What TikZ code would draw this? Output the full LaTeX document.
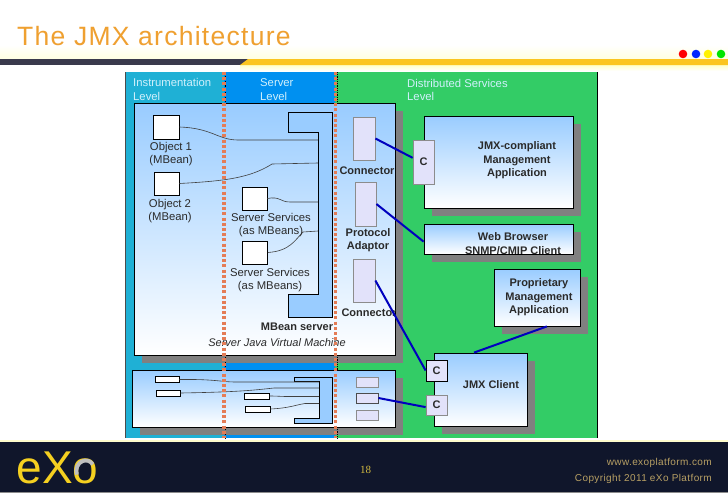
\documentclass[tikz,border=0pt]{standalone}
\usepackage{fontspec}
\usepackage{xcolor}
\usetikzlibrary{shadows}
\setmainfont{Liberation Sans}
\newfontfamily\pagefont{Liberation Serif}
\definecolor{bandteal}{HTML}{1FB0D5}
\definecolor{bandblue}{HTML}{0090F0}
\definecolor{bandgreen}{HTML}{33CC66}
\definecolor{skyfill}{HTML}{99CCFF}
\definecolor{lavender}{HTML}{E2E2FA}
\definecolor{linkblue}{HTML}{0000BE}
\definecolor{dotorange}{HTML}{E47C56}
\definecolor{footnavy}{HTML}{10162B}
\definecolor{footgold}{HTML}{B8A064}
\definecolor{pagegold}{HTML}{D0B840}
\definecolor{barslate}{HTML}{3A3A4C}
\definecolor{bargold}{HTML}{FBC520}
\definecolor{titleorange}{HTML}{EFA030}
\definecolor{logoyellow}{HTML}{F5D020}
\definecolor{inktext}{HTML}{2A2A2A}
\tikzset{
  lbl/.style={font=\fontsize{11.3}{13.6}\selectfont, text=inktext, align=center, inner sep=0pt},
  boldlbl/.style={lbl, font=\fontsize{11}{13.6}\selectfont\bfseries},
  bandlbl/.style={lbl, anchor=west, align=left, text=white!82!cyan},
  whitebox/.style={draw=black, fill=white, line width=0.7pt, inner sep=0pt},
  gradbox/.style={draw=black, line width=0.8pt, top color=skyfill, bottom color=white, inner sep=0pt,
    drop shadow={shadow xshift=7.5pt, shadow yshift=-7.5pt, fill=black!50, opacity=1}},
  portbox/.style={draw=black!45, fill=lavender, line width=0.8pt, inner sep=0pt},
  cport/.style={portbox, boldlbl, minimum width=21pt},
  wire/.style={draw=black!75, line width=0.6pt},
  link/.style={draw=linkblue, line width=2pt},
  levelline/.style={dotorange, line width=3.3pt, dash pattern=on 3pt off 2.2pt},
  levelmark/.style={black, line width=0.8pt, densely dotted},
  mbeanbar/.style={fill=skyfill, draw=black, line width=0.8pt},
  dot/.style={circle, minimum size=8.6pt, inner sep=0pt}
}
\begin{document}
\begin{tikzpicture}[x=1pt, y=-1pt]
\useasboundingbox (0,0) rectangle (728,493);
\fill[white] (0,0) rectangle (728,493);

% Header
\shade[top color=white, bottom color=yellow!12] (0,45) rectangle (728,59);
\shade[top color=yellow!22, bottom color=white] (240,65) rectangle (728,71);
\fill[barslate] (0,59) rectangle (250,65);
\fill[bargold] (240,65) -- (248,59) -- (728,59) -- (728,65) -- cycle;
\node[anchor=base west, inner sep=0pt, text=titleorange, font=\fontsize{26.5}{30}\selectfont\addfontfeature{LetterSpace=4.8}] (title) at (17,45) {The JMX architecture};
\node[dot, fill=red] (dotred) at (683,54) {};
\node[dot, fill=blue!85!cyan] (dotblue) at (696,54) {};
\node[dot, fill=yellow] (dotyellow) at (708,54) {};
\node[dot, fill=green!90!black] (dotgreen) at (721,54) {};

% Level bands
\fill[bandteal] (125,72) rectangle (224,438);
\fill[bandblue] (224,72) rectangle (335,438);
\fill[bandgreen] (335,72) rectangle (597,438);
\draw[black, line width=1.4pt] (597.5,72) -- (597.5,438);
\draw[black!70, line width=0.6pt] (125,72) -- (125,438);
\node[bandlbl] (lvlinst) at (133,89.5) {Instrumentation\\Level};
\node[bandlbl] (lvlserv) at (260,89.5) {Server\\Level};
\node[bandlbl] (lvldist) at (407,90) {Distributed Services\\Level};

% JVM box and the lower box
\node[gradbox, minimum width=261pt, minimum height=251.5pt] (jvm) at (264.5,229.5) {};
\node[gradbox, minimum width=263pt, minimum height=57pt] (lowerjvm) at (263.5,398.5) {};

% MBean server
\draw[mbeanbar] (288,112) -- (332,112) -- (332,317) -- (288,317) -- (288,294) -- (318,294) -- (318,132) -- (288,132) -- cycle;
\draw[mbeanbar] (294,377) -- (332,377) -- (332,423) -- (294,423) -- (294,418) -- (319,418) -- (319,381) -- (294,381) -- cycle;

% Objects
\node[whitebox, minimum width=26pt, minimum height=24pt] (objone) at (166,127) {};
\node[whitebox, minimum width=25pt, minimum height=23pt] (objtwo) at (166.5,183.5) {};
\node[whitebox, minimum width=25pt, minimum height=23pt] (srvone) at (254.5,198.5) {};
\node[whitebox, minimum width=25pt, minimum height=23pt] (srvtwo) at (255,252.5) {};
\node[whitebox, minimum width=24pt, minimum height=5.5pt] (lowone) at (167,379.5) {};
\node[whitebox, minimum width=24pt, minimum height=6pt] (lowtwo) at (168,393) {};
\node[whitebox, minimum width=25pt, minimum height=6pt] (lowthree) at (256.5,396) {};
\node[whitebox, minimum width=25pt, minimum height=6pt] (lowfour) at (257.5,409) {};

% Wires into the server
\coordinate (busone) at (318,140);
\coordinate (bustwo) at (318,163);
\coordinate (busthree) at (318,202);
\coordinate (busfour) at (318,231);
\coordinate (lowbusone) at (319,382);
\coordinate (lowbustwo) at (319,388);
\coordinate (lowbusthree) at (319,396.5);
\coordinate (lowbusfour) at (319,403.5);
\draw[wire] (objone.east) .. controls (212,128) and (218,140) .. (238,140) -- (busone);
\draw[wire] (objtwo.east) .. controls (225,181) and (250,178) .. (272,164) -- (bustwo);
\draw[wire] (srvone.east) .. controls (280,196) and (280,202) .. (290,202) -- (busthree);
\draw[wire] (srvtwo.east) .. controls (290,251) and (295,240) .. (303,232) -- (busfour);
\draw[wire] (lowone.east) .. controls (215,379) and (222,382) .. (235,382) -- (lowbusone);
\draw[wire] (lowtwo.east) .. controls (240,392) and (255,390) .. (274,388) -- (lowbustwo);
\draw[wire] (lowthree.east) .. controls (278,396) and (280,396.5) .. (288,396.5) -- (lowbusthree);
\draw[wire] (lowfour.east) .. controls (290,408) and (295,405) .. (305,403.5) -- (lowbusfour);

% Labels inside the JVM
\node[lbl] (objonelbl) at (171,154) {Object 1\\(MBean)};
\node[lbl] (objtwolbl) at (170,211) {Object 2\\(MBean)};
\node[lbl] (srvonelbl) at (271,225) {Server Services\\(as MBeans)};
\node[lbl] (srvtwolbl) at (270,280) {Server Services\\(as MBeans)};
\node[boldlbl] (mbeanlbl) at (297,327) {MBean server};
\node[lbl, font=\fontsize{11}{13.6}\selectfont\itshape] (vmlbl) at (277,343) {Server Java Virtual Machine};

% Connectors and adaptor
\node[portbox, minimum width=22pt, minimum height=43pt] (connone) at (364,138.5) {};
\node[portbox, minimum width=21pt, minimum height=44pt] (adaptor) at (365.5,204) {};
\node[portbox, minimum width=22pt, minimum height=43pt] (conntwo) at (364,280.5) {};
\node[portbox, minimum width=22pt, minimum height=10pt] (lowportone) at (367,382) {};
\node[portbox, draw=black!70, minimum width=22pt, minimum height=10pt] (lowporttwo) at (367,398) {};
\node[portbox, minimum width=22pt, minimum height=10pt] (lowportthree) at (367,415) {};
\node[boldlbl] (connonelbl) at (367,171) {Connector};
\node[boldlbl] (adaptorlbl) at (368,240) {Protocol\\Adaptor};
\node[boldlbl] (conntwolbl) at (369,313) {Connector};

% Client side
\node[gradbox, minimum width=149pt, minimum height=92pt] (jmxapp) at (498.5,162) {};
\node[gradbox, minimum width=149pt, minimum height=30pt] (browser) at (498.5,239) {};
\node[gradbox, minimum width=86pt, minimum height=57pt] (propapp) at (537,297.5) {};
\node[gradbox, minimum width=93pt, minimum height=73pt] (client) at (480.5,389.5) {};
\node[boldlbl] (jmxapplbl) at (517,160.5) {JMX-compliant\\Management\\Application};
\node[boldlbl] (browserlbl) at (513,243.5) {Web Browser\\SNMP/CMIP Client};
\node[boldlbl] (propapplbl) at (539,297.5) {Proprietary\\Management\\Application};
\node[boldlbl] (clientlbl) at (491,385) {JMX Client};
\node[cport, minimum height=44pt] (cone) at (423.5,162) {C};
\node[cport, draw=black, minimum height=21pt] (ctwo) at (436.5,370.5) {C};
\node[cport, minimum height=20pt] (cthree) at (436.5,405) {C};

% Blue links
\draw[link] (connone.east) -- (cone.159);
\draw[link] (adaptor.east) -- (browser.182);
\draw[link] (conntwo.east) -- (ctwo.west);
\draw[link] (lowporttwo.east) -- (cthree.191);
\draw[link] (client.100) -- (propapp.-71);

% Level separators
\foreach \sepx in {224,335.5} {
  \draw[levelmark] (\sepx+1.5,72) -- (\sepx+1.5,103);
  \draw[levelmark] (\sepx+1.5,355) -- (\sepx+1.5,370);
  \draw[levelmark] (\sepx+1.5,427) -- (\sepx+1.5,438);
  \draw[levelline] (\sepx,72) -- (\sepx,438);
}

% Footer
\fill[yellow!20!white] (0,439.5) rectangle (728,442);
\fill[footnavy] (0,442) rectangle (728,491.5);
\fill[black!45] (0,491.5) rectangle (728,492.5);
\node[anchor=base west, inner sep=0pt, text=logoyellow, font=\fontsize{46}{50}\selectfont] (logo) at (16.5,483) {eXo};
\draw[black!25, line width=3.8pt] (76.9,474.6) arc[start angle=200, end angle=40, x radius=9.3pt, y radius=10.5pt];
\node[text=pagegold, font=\fontsize{11}{12}\pagefont, inner sep=0pt] (pagenum) at (365.5,469.5) {18};
\node[anchor=east, text=footgold, inner sep=0pt, font=\fontsize{10}{12}\selectfont\addfontfeature{LetterSpace=4}] (weblbl) at (712,463) {www.exoplatform.com};
\node[anchor=east, text=footgold, inner sep=0pt, font=\fontsize{10}{12}\selectfont\addfontfeature{LetterSpace=4}] (copylbl) at (712,479) {Copyright 2011 eXo Platform};
\end{tikzpicture}
\end{document}
